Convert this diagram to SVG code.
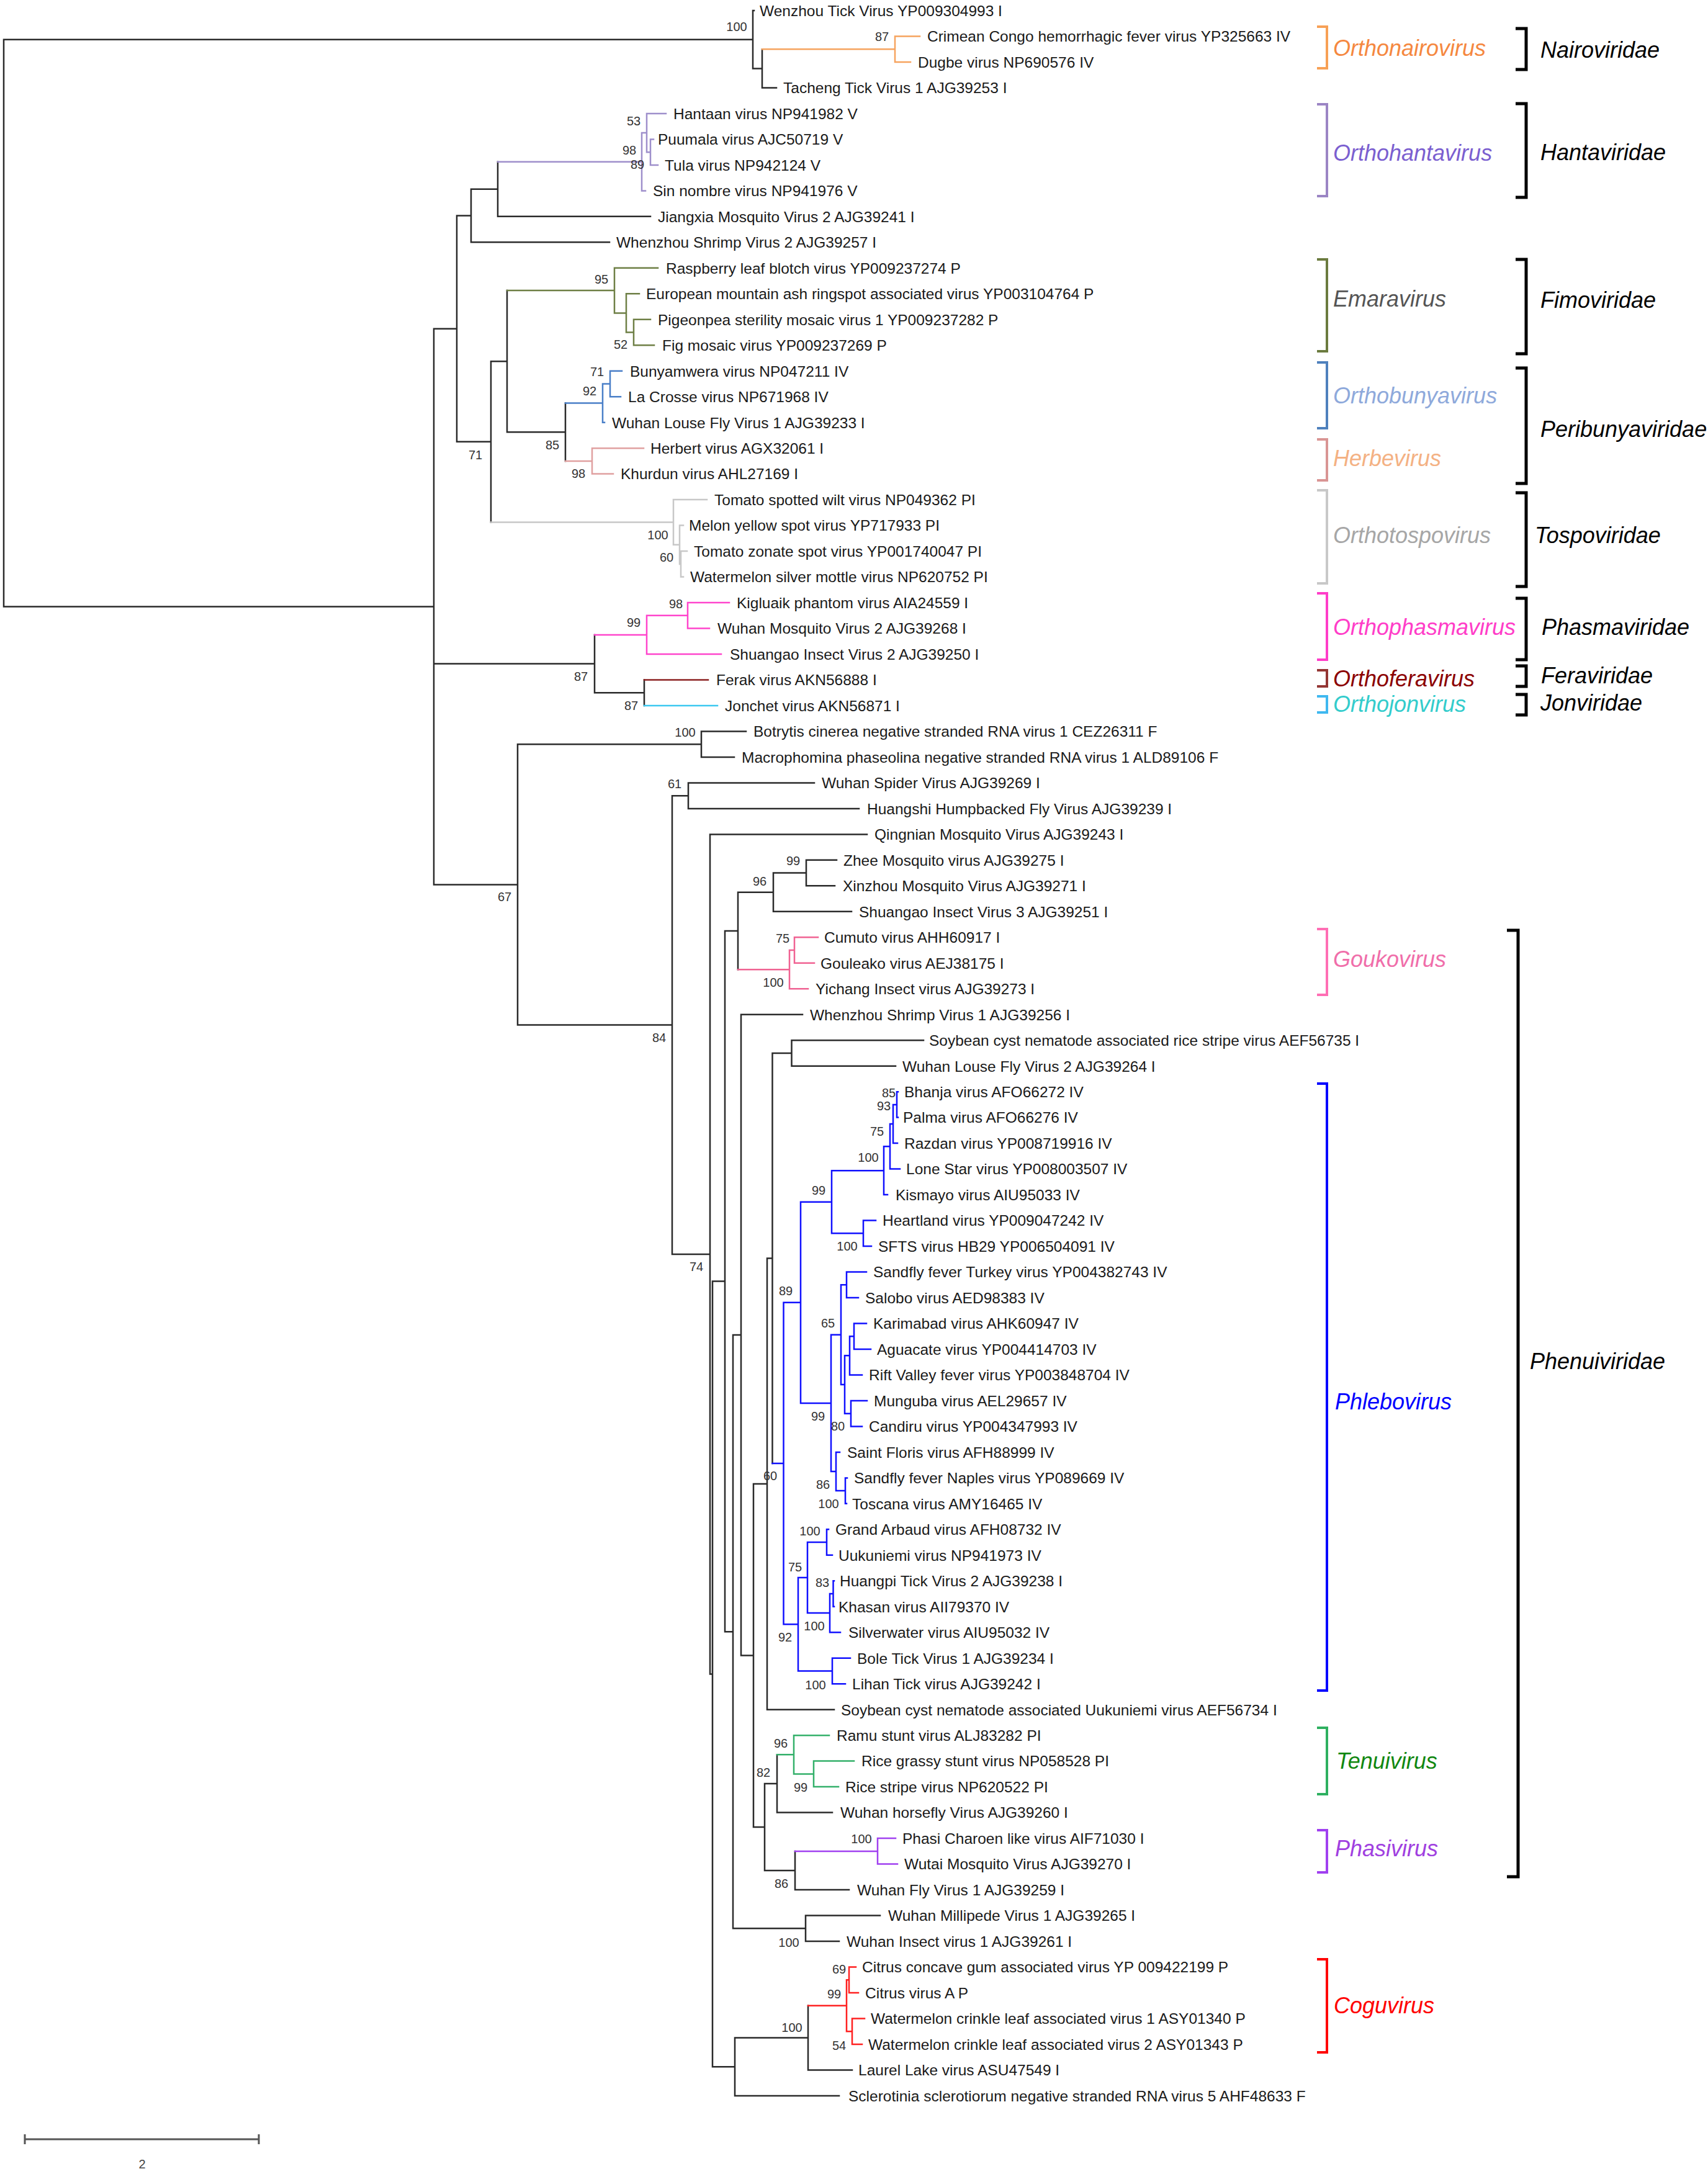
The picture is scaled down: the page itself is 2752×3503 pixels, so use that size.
<svg xmlns="http://www.w3.org/2000/svg" width="2752" height="3503" viewBox="0 0 2752 3503">
<style>
.br{fill:none;stroke-width:2.5;stroke-linecap:square}
.k{stroke:#2a2a2a}
.or{stroke:#F6A35E}.hp{stroke:#9E8FCB}.ol{stroke:#6E7F45}.bu{stroke:#4A7FC8}.hb{stroke:#E0A0A0}
.gy{stroke:#C8C8C8}.mg{stroke:#FF44CC}.dr{stroke:#8B2020}.cy{stroke:#3CC8F0}.pk{stroke:#F06292}
.pb{stroke:#1010FF}.gn{stroke:#33B06A}.ph{stroke:#A040F0}.rd{stroke:#FF2020}
.lf{font-family:"Liberation Sans",Arial,sans-serif;font-size:24.5px;fill:#1a1a1a}
.bs{font-family:"Liberation Sans",Arial,sans-serif;font-size:20px;fill:#333;text-anchor:middle}
.gl{font-family:"Liberation Sans",Arial,sans-serif;font-size:36px;font-style:italic}
.fl{font-family:"Liberation Sans",Arial,sans-serif;font-size:36px;font-style:italic;fill:#000}
.bk{fill:none;stroke-width:4}
.fb{fill:none;stroke:#000;stroke-width:5}
</style>
<rect width="2752" height="3503" fill="#fff"/>
<g id="connectors">
<path class="br k" d="M6,63.7V977.5M6,63.7H1213M6,977.5H699
M1213,17V110.4M1213,17H1215M1213,110.4H1228M1228,79.3V141.4M1228,141.4H1251
M699,529.7V1425.4M699,529.7H736M699,1069.6H958M699,1425.4H834
M736,347.5V711.8M736,347.5H759M736,711.8H791
M759,304.8V390.3M759,304.8H802M759,390.3H982
M802,260.7V348.8M802,348.8H1048
M791,582.2V841.5M791,582.2H817
M817,468.1V696.3M817,696.3H911
M911,649.6V742.9
M958,1022.9V1116.3M958,1116.3H1038M1038,1095.5V1137
M834,1199.2V1651.5M834,1199.2H1130M1130,1178.4V1219.9M1130,1178.4H1202M1130,1219.9H1183
M834,1651.5H1083M1083,1282.2V2020.9M1083,1282.2H1109M1109,1261.4V1302.9M1109,1261.4H1312M1109,1302.9H1384
M1083,2020.9H1144M1144,1344.4V2697.4M1144,1344.4H1397M1144,2697.4H1148
M1148,2064.6V3330.2M1148,2064.6H1168M1168,1500V2629.2M1168,1500H1189
M1189,1437.7V1562.2M1189,1437.7H1246M1246,1406.6V1468.8M1246,1406.6H1299M1299,1385.8V1427.3M1299,1385.8H1348M1299,1427.3H1345M1246,1468.8H1372
M1168,2629.2H1181M1181,2151.1V3107.3M1181,2151.1H1194M1194,1634.7V2667.5M1194,1634.7H1293
M1194,2667.5H1214M1214,2391.1V2944M1214,2391.1H1236M1236,2027.5V2754.7M1236,2027.5H1244.5
M1244.5,1697V2358M1244.5,1697H1275.5M1275.5,1676.2V1717.7M1275.5,1676.2H1488M1275.5,1717.7H1443
M1236,2754.7H1344
M1214,2944H1232M1232,2874V3013.9M1232,2874H1252M1252,2827.3V2920.6M1252,2920.6H1341
M1232,3013.9H1281M1281,2982.9V3045M1281,3045H1368
M1181,3107.3H1298M1298,3086.5V3128M1298,3086.5H1418M1298,3128H1352
M1148,3330.2H1184M1184,3283.5V3376.9M1184,3283.5H1302M1302,3231.7V3335.4M1302,3335.4H1373M1184,3376.9H1352"/>
<path class="br or" d="M1228,79.3H1442M1442,58.5V100M1442,58.5H1482M1442,100H1467"/>
<path class="br hp" d="M802,260.7H1034M1034,214V307.4M1034,307.4H1040M1034,214H1042M1042,182.9V245.2M1042,182.9H1073M1042,245.2H1048M1048,224.4V265.9M1048,224.4H1053M1048,265.9H1060"/>
<path class="br ol" d="M817,468.1H990M990,431.8V504.4M990,431.8H1060M990,504.4H1009M1009,473.3V535.5M1009,473.3H1030M1009,535.5H1021M1021,514.8V556.2M1021,514.8H1048M1021,556.2H1054"/>
<path class="br bu" d="M911,649.6H971M971,618.5V680.7M971,618.5H983M983,597.7V639.2M983,597.7H1002M983,639.2H1000M971,680.7H974"/>
<path class="br hb" d="M911,742.9H954M954,722.2V763.6M954,722.2H1037M954,763.6H988"/>
<path class="br gy" d="M791,841.5H1085M1085,805.1V877.8M1085,805.1H1139M1085,877.8H1095M1095,846.6V908.9M1095,846.6H1101M1095,908.9H1097M1097,888.1V929.6M1097,888.1H1107M1097,929.6H1101"/>
<path class="br mg" d="M958,1022.9H1042M1042,991.8V1054M1042,991.8H1108M1108,971V1012.5M1108,971H1175M1108,1012.5H1143M1042,1054H1162"/>
<path class="br dr" d="M1038,1095.5H1141"/>
<path class="br cy" d="M1038,1137H1156"/>
<path class="br pk" d="M1189,1562.2H1272M1272,1531.1V1593.2M1272,1531.1H1280M1280,1510.3V1551.8M1280,1510.3H1318M1280,1551.8H1312M1272,1593.2H1302"/>
<path class="br pb" d="M1244.5,2358H1262.5M1262.5,2098.8V2617.3M1262.5,2098.8H1290M1290,1936.8V2260.9M1290,1936.8H1340M1340,1886.2V1987.3M1340,1886.2H1424M1424,1847.3V1925.1M1424,1847.3H1434M1434,1811V1883.6M1434,1811H1439M1439,1779.9V1842.1M1439,1779.9H1445M1445,1759.2V1800.6M1445,1759.2H1447M1445,1800.6H1447M1439,1842.1H1446M1434,1883.6H1450M1424,1925.1H1430
M1340,1987.3H1391M1391,1966.6V2008M1391,1966.6H1411M1391,2008H1404
M1290,2260.9H1339M1339,2150.7V2371M1339,2150.7H1355M1355,2070.3V2231M1355,2070.3H1364M1364,2049.5V2091M1364,2049.5H1396M1364,2091H1383
M1355,2231H1361M1361,2184.3V2277.7M1361,2184.3H1369M1369,2153.3V2215.4M1369,2153.3H1376M1376,2132.5V2174M1376,2132.5H1396M1376,2174H1403M1369,2215.4H1389
M1361,2277.7H1371M1371,2256.9V2298.4M1371,2256.9H1397M1371,2298.4H1389
M1339,2371H1347M1347,2339.9V2402.1M1347,2339.9H1353M1347,2402.1H1362M1362,2381.4V2422.8M1362,2381.4H1365M1362,2422.8H1364
M1262.5,2617.3H1286M1286,2542.1V2692.5M1286,2542.1H1301M1301,2485.1V2599.1M1301,2485.1H1332M1332,2464.3V2505.8M1332,2464.3H1335M1332,2505.8H1341
M1301,2599.1H1337M1337,2568.1V2630.2M1337,2568.1H1342.5M1342.5,2547.3V2588.8M1342.5,2547.3H1344M1342.5,2588.8H1344M1337,2630.2H1354
M1286,2692.5H1341M1341,2671.7V2713.2M1341,2671.7H1370M1341,2713.2H1362"/>
<path class="br gn" d="M1252,2827.3H1279M1279,2796.2V2858.4M1279,2796.2H1336M1279,2858.4H1311M1311,2837.6V2879.1M1311,2837.6H1376M1311,2879.1H1351"/>
<path class="br ph" d="M1281,2982.9H1414M1414,2962.1V3003.6M1414,2962.1H1443M1414,3003.6H1446"/>
<path class="br rd" d="M1302,3231.7H1364M1364,3190.2V3273.2M1364,3190.2H1368M1368,3169.5V3211M1368,3169.5H1379M1368,3211H1383M1364,3273.2H1373M1373,3252.4V3293.9M1373,3252.4H1393M1373,3293.9H1389"/>
</g>
<g id="leaves">
<g id="leaf-1"><text class="lf" x="1224" y="25.8">Wenzhou Tick Virus YP009304993 I</text></g>
<g id="leaf-2"><text class="lf" x="1494" y="67.3">Crimean Congo hemorrhagic fever virus YP325663 IV</text></g>
<g id="leaf-3"><text class="lf" x="1479" y="108.8">Dugbe virus NP690576 IV</text></g>
<g id="leaf-4"><text class="lf" x="1262" y="150.2">Tacheng Tick Virus 1 AJG39253 I</text></g>
<g id="leaf-5"><text class="lf" x="1085" y="191.7">Hantaan virus NP941982 V</text></g>
<g id="leaf-6"><text class="lf" x="1060" y="233.2">Puumala virus AJC50719 V</text></g>
<g id="leaf-7"><text class="lf" x="1071" y="274.7">Tula virus NP942124 V</text></g>
<g id="leaf-8"><text class="lf" x="1052" y="316.2">Sin nombre virus NP941976 V</text></g>
<g id="leaf-9"><text class="lf" x="1060" y="357.6">Jiangxia Mosquito Virus 2 AJG39241 I</text></g>
<g id="leaf-10"><text class="lf" x="993" y="399.1">Whenzhou Shrimp Virus 2 AJG39257 I</text></g>
<g id="leaf-11"><text class="lf" x="1073" y="440.6">Raspberry leaf blotch virus YP009237274 P</text></g>
<g id="leaf-12"><text class="lf" x="1041" y="482.1">European mountain ash ringspot associated virus YP003104764 P</text></g>
<g id="leaf-13"><text class="lf" x="1060" y="523.6">Pigeonpea sterility mosaic virus 1 YP009237282 P</text></g>
<g id="leaf-14"><text class="lf" x="1067" y="565">Fig mosaic virus YP009237269 P</text></g>
<g id="leaf-15"><text class="lf" x="1015" y="606.5">Bunyamwera virus NP047211 IV</text></g>
<g id="leaf-16"><text class="lf" x="1012" y="648">La Crosse virus NP671968 IV</text></g>
<g id="leaf-17"><text class="lf" x="986" y="689.5">Wuhan Louse Fly Virus 1 AJG39233 I</text></g>
<g id="leaf-18"><text class="lf" x="1048" y="731">Herbert virus AGX32061 I</text></g>
<g id="leaf-19"><text class="lf" x="1000" y="772.4">Khurdun virus AHL27169 I</text></g>
<g id="leaf-20"><text class="lf" x="1151" y="813.9">Tomato spotted wilt virus NP049362 PI</text></g>
<g id="leaf-21"><text class="lf" x="1110" y="855.4">Melon yellow spot virus YP717933 PI</text></g>
<g id="leaf-22"><text class="lf" x="1118" y="896.9">Tomato zonate spot virus YP001740047 PI</text></g>
<g id="leaf-23"><text class="lf" x="1112" y="938.4">Watermelon silver mottle virus NP620752 PI</text></g>
<g id="leaf-24"><text class="lf" x="1187" y="979.8">Kigluaik phantom virus AIA24559 I</text></g>
<g id="leaf-25"><text class="lf" x="1156" y="1021.3">Wuhan Mosquito Virus 2 AJG39268 I</text></g>
<g id="leaf-26"><text class="lf" x="1176" y="1062.8">Shuangao Insect Virus 2 AJG39250 I</text></g>
<g id="leaf-27"><text class="lf" x="1154" y="1104.3">Ferak virus AKN56888 I</text></g>
<g id="leaf-28"><text class="lf" x="1168" y="1145.8">Jonchet virus AKN56871 I</text></g>
<g id="leaf-29"><text class="lf" x="1214" y="1187.2">Botrytis cinerea negative stranded RNA virus 1 CEZ26311 F</text></g>
<g id="leaf-30"><text class="lf" x="1195" y="1228.7">Macrophomina phaseolina negative stranded RNA virus 1 ALD89106 F</text></g>
<g id="leaf-31"><text class="lf" x="1324" y="1270.2">Wuhan Spider Virus AJG39269 I</text></g>
<g id="leaf-32"><text class="lf" x="1397" y="1311.7">Huangshi Humpbacked Fly Virus AJG39239 I</text></g>
<g id="leaf-33"><text class="lf" x="1409" y="1353.2">Qingnian Mosquito Virus AJG39243 I</text></g>
<g id="leaf-34"><text class="lf" x="1359" y="1394.6">Zhee Mosquito virus AJG39275 I</text></g>
<g id="leaf-35"><text class="lf" x="1358" y="1436.1">Xinzhou Mosquito Virus AJG39271 I</text></g>
<g id="leaf-36"><text class="lf" x="1384" y="1477.6">Shuangao Insect Virus 3 AJG39251 I</text></g>
<g id="leaf-37"><text class="lf" x="1328" y="1519.1">Cumuto virus AHH60917 I</text></g>
<g id="leaf-38"><text class="lf" x="1322" y="1560.6">Gouleako virus AEJ38175 I</text></g>
<g id="leaf-39"><text class="lf" x="1314" y="1602">Yichang Insect virus AJG39273 I</text></g>
<g id="leaf-40"><text class="lf" x="1305" y="1643.5">Whenzhou Shrimp Virus 1 AJG39256 I</text></g>
<g id="leaf-41"><text class="lf" x="1497" y="1685">Soybean cyst nematode associated rice stripe virus AEF56735 I</text></g>
<g id="leaf-42"><text class="lf" x="1454" y="1726.5">Wuhan Louse Fly Virus 2 AJG39264 I</text></g>
<g id="leaf-43"><text class="lf" x="1457" y="1768">Bhanja virus AFO66272 IV</text></g>
<g id="leaf-44"><text class="lf" x="1455" y="1809.4">Palma virus AFO66276 IV</text></g>
<g id="leaf-45"><text class="lf" x="1457" y="1850.9">Razdan virus YP008719916 IV</text></g>
<g id="leaf-46"><text class="lf" x="1460" y="1892.4">Lone Star virus YP008003507 IV</text></g>
<g id="leaf-47"><text class="lf" x="1443" y="1933.9">Kismayo virus AIU95033 IV</text></g>
<g id="leaf-48"><text class="lf" x="1422" y="1975.4">Heartland virus YP009047242 IV</text></g>
<g id="leaf-49"><text class="lf" x="1415" y="2016.8">SFTS virus HB29 YP006504091 IV</text></g>
<g id="leaf-50"><text class="lf" x="1407" y="2058.3">Sandfly fever Turkey virus YP004382743 IV</text></g>
<g id="leaf-51"><text class="lf" x="1394" y="2099.8">Salobo virus AED98383 IV</text></g>
<g id="leaf-52"><text class="lf" x="1407" y="2141.3">Karimabad virus AHK60947 IV</text></g>
<g id="leaf-53"><text class="lf" x="1413" y="2182.8">Aguacate virus YP004414703 IV</text></g>
<g id="leaf-54"><text class="lf" x="1400" y="2224.2">Rift Valley fever virus YP003848704 IV</text></g>
<g id="leaf-55"><text class="lf" x="1408" y="2265.7">Munguba virus AEL29657 IV</text></g>
<g id="leaf-56"><text class="lf" x="1400" y="2307.2">Candiru virus YP004347993 IV</text></g>
<g id="leaf-57"><text class="lf" x="1365" y="2348.7">Saint Floris virus AFH88999 IV</text></g>
<g id="leaf-58"><text class="lf" x="1376" y="2390.2">Sandfly fever Naples virus YP089669 IV</text></g>
<g id="leaf-59"><text class="lf" x="1373" y="2431.6">Toscana virus AMY16465 IV</text></g>
<g id="leaf-60"><text class="lf" x="1346" y="2473.1">Grand Arbaud virus AFH08732 IV</text></g>
<g id="leaf-61"><text class="lf" x="1351" y="2514.6">Uukuniemi virus NP941973 IV</text></g>
<g id="leaf-62"><text class="lf" x="1353" y="2556.1">Huangpi Tick Virus 2 AJG39238 I</text></g>
<g id="leaf-63"><text class="lf" x="1351" y="2597.6">Khasan virus AII79370 IV</text></g>
<g id="leaf-64"><text class="lf" x="1367" y="2639">Silverwater virus AIU95032 IV</text></g>
<g id="leaf-65"><text class="lf" x="1381" y="2680.5">Bole Tick Virus 1 AJG39234 I</text></g>
<g id="leaf-66"><text class="lf" x="1373" y="2722">Lihan Tick virus AJG39242 I</text></g>
<g id="leaf-67"><text class="lf" x="1355" y="2763.5">Soybean cyst nematode associated Uukuniemi virus AEF56734 I</text></g>
<g id="leaf-68"><text class="lf" x="1348" y="2805">Ramu stunt virus ALJ83282 PI</text></g>
<g id="leaf-69"><text class="lf" x="1388" y="2846.4">Rice grassy stunt virus NP058528 PI</text></g>
<g id="leaf-70"><text class="lf" x="1362" y="2887.9">Rice stripe virus NP620522 PI</text></g>
<g id="leaf-71"><text class="lf" x="1354" y="2929.4">Wuhan horsefly Virus AJG39260 I</text></g>
<g id="leaf-72"><text class="lf" x="1454" y="2970.9">Phasi Charoen like virus AIF71030 I</text></g>
<g id="leaf-73"><text class="lf" x="1457" y="3012.4">Wutai Mosquito Virus AJG39270 I</text></g>
<g id="leaf-74"><text class="lf" x="1381" y="3053.8">Wuhan Fly Virus 1 AJG39259 I</text></g>
<g id="leaf-75"><text class="lf" x="1431" y="3095.3">Wuhan Millipede Virus 1 AJG39265 I</text></g>
<g id="leaf-76"><text class="lf" x="1364" y="3136.8">Wuhan Insect virus 1 AJG39261 I</text></g>
<g id="leaf-77"><text class="lf" x="1389" y="3178.3">Citrus concave gum associated virus YP 009422199 P</text></g>
<g id="leaf-78"><text class="lf" x="1394" y="3219.8">Citrus virus A P</text></g>
<g id="leaf-79"><text class="lf" x="1403" y="3261.2">Watermelon crinkle leaf associated virus 1 ASY01340 P</text></g>
<g id="leaf-80"><text class="lf" x="1399" y="3302.7">Watermelon crinkle leaf associated virus 2 ASY01343 P</text></g>
<g id="leaf-81"><text class="lf" x="1383" y="3344.2">Laurel Lake virus ASU47549 I</text></g>
<g id="leaf-82"><text class="lf" x="1367" y="3385.7">Sclerotinia sclerotiorum negative stranded RNA virus 5 AHF48633 F</text></g>
</g>
<g id="bootstrap">
<text class="bs" x="1187" y="50">100</text><text class="bs" x="1421" y="66">87</text>
<text class="bs" x="1021" y="202">53</text><text class="bs" x="1014" y="249">98</text><text class="bs" x="1027" y="272">89</text>
<text class="bs" x="969" y="457">95</text><text class="bs" x="1000" y="562">52</text>
<text class="bs" x="962" y="606">71</text><text class="bs" x="950" y="637">92</text><text class="bs" x="890" y="724">85</text>
<text class="bs" x="932" y="770">98</text><text class="bs" x="766" y="740">71</text>
<text class="bs" x="1060" y="869">100</text><text class="bs" x="1074" y="905">60</text>
<text class="bs" x="1089" y="980">98</text><text class="bs" x="1021" y="1010">99</text><text class="bs" x="936" y="1097">87</text><text class="bs" x="1017" y="1144">87</text>
<text class="bs" x="1104" y="1187">100</text><text class="bs" x="813" y="1452">67</text><text class="bs" x="1087" y="1270">61</text><text class="bs" x="1062" y="1679">84</text>
<text class="bs" x="1278" y="1394">99</text><text class="bs" x="1224" y="1427">96</text><text class="bs" x="1261" y="1519">75</text><text class="bs" x="1246" y="1590">100</text>
<text class="bs" x="1122" y="2048">74</text>
<text class="bs" x="1432" y="1768">85</text><text class="bs" x="1424" y="1789">93</text><text class="bs" x="1413" y="1830">75</text><text class="bs" x="1399" y="1872">100</text>
<text class="bs" x="1319" y="1925">99</text><text class="bs" x="1365" y="2015">100</text><text class="bs" x="1266" y="2087">89</text><text class="bs" x="1334" y="2139">65</text>
<text class="bs" x="1318" y="2289">99</text><text class="bs" x="1350" y="2305">80</text><text class="bs" x="1326" y="2399">86</text><text class="bs" x="1335" y="2430">100</text>
<text class="bs" x="1241" y="2385">60</text><text class="bs" x="1305" y="2474">100</text><text class="bs" x="1281" y="2532">75</text><text class="bs" x="1325" y="2557">83</text>
<text class="bs" x="1312" y="2627">100</text><text class="bs" x="1265" y="2645">92</text><text class="bs" x="1314" y="2722">100</text>
<text class="bs" x="1258" y="2816">96</text><text class="bs" x="1230" y="2863">82</text><text class="bs" x="1290" y="2887">99</text>
<text class="bs" x="1388" y="2970">100</text><text class="bs" x="1259" y="3042">86</text><text class="bs" x="1271" y="3137">100</text>
<text class="bs" x="1352" y="3180">69</text><text class="bs" x="1344" y="3220">99</text><text class="bs" x="1352" y="3303">54</text><text class="bs" x="1276" y="3274">100</text>
</g>
<g id="genus-brackets">
<g id="g-orthonairovirus"><path class="bk" stroke="#F7A055" d="M2122,43H2138V110H2122"/><text class="gl" fill="#F5883F" x="2148" y="90">Orthonairovirus</text></g>
<g id="g-orthohantavirus"><path class="bk" stroke="#9B85C4" d="M2122,168H2138V316H2122"/><text class="gl" fill="#7B5FD0" x="2148" y="259">Orthohantavirus</text></g>
<g id="g-emaravirus"><path class="bk" stroke="#6B7B3F" d="M2122,418H2138V566H2122"/><text class="gl" fill="#555555" x="2148" y="494">Emaravirus</text></g>
<g id="g-orthobunyavirus"><path class="bk" stroke="#4F81BD" d="M2122,584H2138V690H2122"/><text class="gl" fill="#8EA9DB" x="2148" y="650">Orthobunyavirus</text></g>
<g id="g-herbevirus"><path class="bk" stroke="#D99594" d="M2122,708H2138V774H2122"/><text class="gl" fill="#F4B183" x="2148" y="751">Herbevirus</text></g>
<g id="g-orthotospovirus"><path class="bk" stroke="#C8C8C8" d="M2122,790H2138V940H2122"/><text class="gl" fill="#A6A6A6" x="2148" y="875">Orthotospovirus</text></g>
<g id="g-orthophasmavirus"><path class="bk" stroke="#FF3DC8" d="M2122,956H2138V1063H2122"/><text class="gl" fill="#FF3DC8" x="2148" y="1023">Orthophasmavirus</text></g>
<g id="g-orthoferavirus"><path class="bk" stroke="#943634" d="M2122,1080H2138V1106H2122"/><text class="gl" fill="#8B0000" x="2148" y="1106">Orthoferavirus</text></g>
<g id="g-orthojonvirus"><path class="bk" stroke="#3FB8F0" d="M2122,1122H2138V1148H2122"/><text class="gl" fill="#33CCCC" x="2148" y="1147">Orthojonvirus</text></g>
<g id="g-goukovirus"><path class="bk" stroke="#FF6EB4" d="M2122,1497H2138V1603H2122"/><text class="gl" fill="#F06EAA" x="2148" y="1558">Goukovirus</text></g>
<g id="g-phlebovirus"><path class="bk" stroke="#0000FF" d="M2122,1746H2138V2724H2122"/><text class="gl" fill="#0000FF" x="2151" y="2271">Phlebovirus</text></g>
<g id="g-tenuivirus"><path class="bk" stroke="#2EB060" d="M2122,2784H2138V2891H2122"/><text class="gl" fill="#118811" x="2153" y="2850">Tenuivirus</text></g>
<g id="g-phasivirus"><path class="bk" stroke="#A040F0" d="M2122,2949H2138V3017H2122"/><text class="gl" fill="#A040E0" x="2151" y="2991">Phasivirus</text></g>
<g id="g-coguvirus"><path class="bk" stroke="#FF0000" d="M2122,3157H2138V3307H2122"/><text class="gl" fill="#FF0000" x="2149" y="3244">Coguvirus</text></g>
</g>
<g id="family-brackets">
<g id="f-nairoviridae"><path class="fb" d="M2442,46H2459V112H2442"/><text class="fl" x="2482" y="93">Nairoviridae</text></g>
<g id="f-hantaviridae"><path class="fb" d="M2442,167H2459V318H2442"/><text class="fl" x="2482" y="258">Hantaviridae</text></g>
<g id="f-fimoviridae"><path class="fb" d="M2442,418H2459V570H2442"/><text class="fl" x="2482" y="496">Fimoviridae</text></g>
<g id="f-peribunyaviridae"><path class="fb" d="M2442,593H2459V779H2442"/><text class="fl" x="2482" y="704">Peribunyaviridae</text></g>
<g id="f-tospoviridae"><path class="fb" d="M2442,794H2459V945H2442"/><text class="fl" x="2473" y="875">Tospoviridae</text></g>
<g id="f-phasmaviridae"><path class="fb" d="M2442,964H2459V1063H2442"/><text class="fl" x="2484" y="1023">Phasmaviridae</text></g>
<g id="f-feraviridae"><path class="fb" d="M2442,1073H2459V1106H2442"/><text class="fl" x="2483" y="1101">Feraviridae</text></g>
<g id="f-jonviridae"><path class="fb" d="M2442,1119H2459V1152H2442"/><text class="fl" x="2482" y="1145">Jonviridae</text></g>
<g id="f-phenuiviridae"><path class="fb" d="M2428,1499H2446V3024H2428"/><text class="fl" x="2465" y="2206">Phenuiviridae</text></g>
</g>
<g id="scale-bar">
<path d="M40,3447H417M40,3439V3455M417,3439V3455" fill="none" stroke="#555" stroke-width="3"/>
<text x="229" y="3494" font-family="Liberation Sans, Arial, sans-serif" font-size="20" fill="#444" text-anchor="middle">2</text>
</g>
</svg>
